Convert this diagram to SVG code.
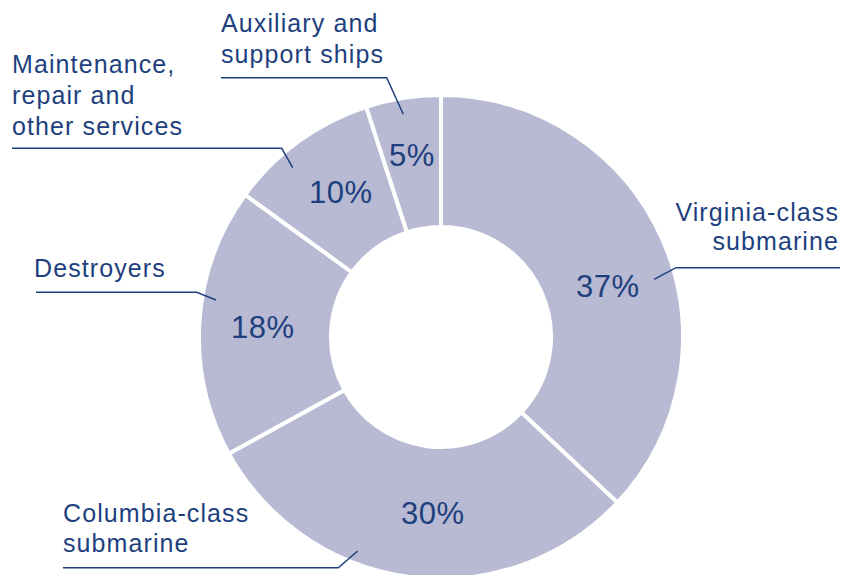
<svg xmlns="http://www.w3.org/2000/svg" width="842" height="575" viewBox="0 0 842 575">
<style>
.seg{fill:#b8b9d2;stroke:#ffffff;stroke-width:4;stroke-linejoin:miter}
.lbl{font-family:"Liberation Sans",Arial,sans-serif;font-size:25px;letter-spacing:1.1px;fill:#1e3f7e}
.pct{font-family:"Liberation Sans",Arial,sans-serif;font-size:31px;letter-spacing:0.5px;fill:#1e3f7e}
.ld{fill:none;stroke:#1e3f7e;stroke-width:1.5}
</style>
<rect width="842" height="575" fill="#ffffff"/>
<g id="virginia">
<path class="seg" d="M441,95 A242,242 0 0 1 617.4,502.6 L521.2,412.3 A110,110 0 0 0 441,227 Z"/>
<text class="pct" x="576" y="297">37%</text>
<text class="lbl" x="839" y="221" text-anchor="end">Virginia-class</text>
<text class="lbl" x="839" y="250" text-anchor="end">submarine</text>
</g>
<g id="columbia">
<path class="seg" d="M617.4,502.6 A242,242 0 0 1 228.9,453.6 L344.6,390 A110,110 0 0 0 521.2,412.3 Z"/>
<text class="pct" x="401" y="524">30%</text>
<text class="lbl" x="63" y="522">Columbia-class</text>
<text class="lbl" x="63" y="552">submarine</text>
</g>
<g id="destroyers">
<path class="seg" d="M228.9,453.6 A242,242 0 0 1 245.2,194.8 L352,272.3 A110,110 0 0 0 344.6,390 Z"/>
<text class="pct" x="231" y="338">18%</text>
<text class="lbl" x="34" y="277">Destroyers</text>
</g>
<g id="maintenance">
<path class="seg" d="M245.2,194.8 A242,242 0 0 1 366.2,106.8 L407,232.4 A110,110 0 0 0 352,272.3 Z"/>
<text class="pct" x="309" y="203">10%</text>
<text class="lbl" x="12" y="73">Maintenance,</text>
<text class="lbl" x="12" y="104">repair and</text>
<text class="lbl" x="12" y="135">other services</text>
</g>
<g id="auxiliary">
<path class="seg" d="M366.2,106.8 A242,242 0 0 1 441,95 L441,227 A110,110 0 0 0 407,232.4 Z"/>
<text class="pct" x="389" y="166">5%</text>
<text class="lbl" x="221" y="32">Auxiliary and</text>
<text class="lbl" x="221" y="63">support ships</text>
</g>
<g id="connectors">
<polyline class="ld" points="221,77.7 386.7,77.7 403.3,114.3"/>
<polyline class="ld" points="12,148.3 281.7,148.3 292.7,167.7"/>
<polyline class="ld" points="840,267.7 676,267.7 654,279.3"/>
<polyline class="ld" points="36,292.3 196.7,292.3 216,300"/>
<polyline class="ld" points="63,567.7 338.3,567.7 357.7,551"/>
</g>
</svg>
